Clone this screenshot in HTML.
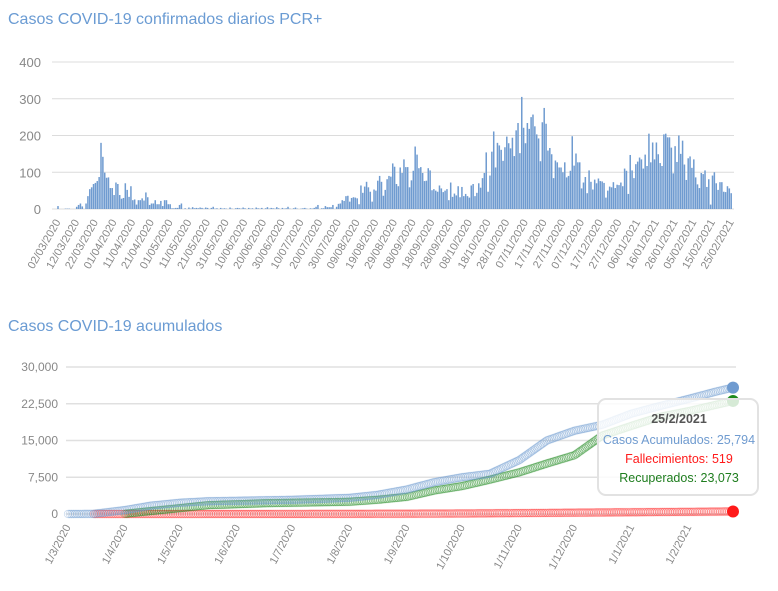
<!DOCTYPE html>
<html><head><meta charset="utf-8">
<style>
body{margin:0;background:#fff;font-family:"Liberation Sans",sans-serif;}
svg{display:block}
</style></head>
<body>
<svg id="root" width="778" height="591" xmlns="http://www.w3.org/2000/svg">
<text x="8" y="24" font-size="16" fill="#6a9bd3">Casos COVID-19 confirmados diarios PCR+</text>
<g id="topChart"></g>
<text x="8" y="331" font-size="16" fill="#6a9bd3">Casos COVID-19 acumulados</text>
<g id="botChart"></g>
</svg>
<script>
// ---- daily chart data ----
const dailyTicks = ["02/03/2020","12/03/2020","22/03/2020","01/04/2020","11/04/2020","21/04/2020","01/05/2020","11/05/2020","21/05/2020","31/05/2020","10/06/2020","20/06/2020","30/06/2020","10/07/2020","20/07/2020","30/07/2020","09/08/2020","19/08/2020","29/08/2020","08/09/2020","18/09/2020","28/09/2020","08/10/2020","18/10/2020","28/10/2020","07/11/2020","17/11/2020","27/11/2020","07/12/2020","17/12/2020","27/12/2020","06/01/2021","16/01/2021","26/01/2021","05/02/2021","15/02/2021","25/02/2021"];
const dailyYTicks = [0,100,200,300,400];
const dailyCases = [
8,0,0,0,1,1,1,0,0,0, 6,11,15,7,0,15,35,54,59,68,
71,76,87,180,142,99,85,86,57,57, 38,72,68,38,28,30,70,52,33,62,
24,26,12,24,24,29,23,45,32,11, 15,15,24,13,13,22,8,24,24,13,
13,2,2,3,3,11,15,0,2,0, 4,1,5,2,3,2,4,3,1,4,
3,0,3,6,1,2,0,3,1,2, 1,0,4,1,0,2,3,2,1,4,
2,0,3,1,2,0,4,2,1,3, 0,2,5,1,3,2,1,5,2,0,
3,1,2,6,1,0,2,4,1,0, 1,2,3,1,0,2,1,3,6,11,
0,2,2,8,5,5,5,11,0,6, 14,15,24,22,35,36,20,30,32,31,
29,13,64,44,61,74,59,47,20,53, 50,77,90,74,36,52,81,90,88,124,
115,68,62,113,98,135,114,114,59,78, 104,170,148,111,114,98,76,77,111,105,
51,54,50,47,64,56,46,50,54,24, 72,33,42,37,62,32,60,35,41,35,
31,64,68,35,44,70,58,84,98,154, 47,91,156,211,113,180,173,161,131,168,
197,179,165,194,144,214,234,152,305,221, 179,234,218,250,257,225,203,192,130,236,
275,232,159,166,149,84,132,127,113,113, 100,127,86,90,104,198,118,151,127,127,
56,72,87,43,105,74,53,80,70,83, 76,75,71,31,50,61,59,73,57,66,
65,72,62,110,104,41,147,105,84,122, 129,140,135,110,148,117,205,127,181,135,
181,149,125,117,203,205,195,195,167,97, 171,128,200,150,186,121,79,138,143,112,
135,86,67,57,98,95,105,60,81,12, 91,100,70,52,73,73,47,46,62,56, 43];

// ---- cumulative chart data ----
const cumDays = [0,14,31,45,61,76,92,107,122,138,153,168,184,199,214,229,245,260,275,290,306,321,337,352,361];
const cumLabels = ["1/3/2020","1/4/2020","1/5/2020","1/6/2020","1/7/2020","1/8/2020","1/9/2020","1/10/2020","1/11/2020","1/12/2020","1/1/2021","1/2/2021"];
const cumTickDays = [0,31,61,92,122,153,184,214,245,275,306,337];
const cumYTicks = [0,7500,15000,22500,30000];
const casosAcum = [0,30,800,1700,2300,2600,2700,2800,2900,3100,3300,3900,5000,6500,7500,8200,11000,15000,17000,18200,20500,22000,23500,25000,25794];
const recuperados = [0,0,50,600,1200,1800,2000,2200,2300,2400,2500,2900,3500,4800,5700,7000,8500,10300,12000,16000,18000,19800,21000,22300,23073];
const fallecidos = [0,0,2,4,6,8,10,12,15,20,30,45,60,80,100,140,180,220,270,310,350,400,440,490,519];

const NS="http://www.w3.org/2000/svg";
function mk(parent,tag,attrs){const e=document.createElementNS(NS,tag);for(const k in attrs)e.setAttribute(k,attrs[k]);parent.appendChild(e);return e;}

// ---- draw daily chart ----
const topG=document.getElementById('topChart');
const tx0=58, tdx=1.87, ty0=209, tyPer=147/400;
const txs=d=>tx0+d*tdx, tys=v=>ty0-v*tyPer;
dailyYTicks.forEach(v=>{
  const l=mk(topG,'line',{x1:52,x2:734,y1:tys(v),y2:tys(v),stroke:'#dcdcdc','stroke-width':1});
  
  
  const t=mk(topG,'text',{x:41,y:tys(v)+5,'text-anchor':'end','font-size':13,fill:'#888'});
  t.textContent=v;
  
  
});
dailyCases.forEach((v,i)=>{
  const r=mk(topG,'rect',{x:txs(i)-0.75,y:tys(v),width:1.5,height:v*tyPer,fill:'#6f9bd0'});
  
  
});
dailyTicks.forEach((s,i)=>{
  const x=txs(i*10)+3, y=222;
  const t=mk(topG,'text',{x:x,y:y,'text-anchor':'end','font-size':11,fill:'#888',transform:`rotate(-60 ${x} ${y})`});
  t.textContent=s;
  
  
});

// ---- draw cumulative chart ----
const botG=document.getElementById('botChart');
const bx0=68, bdx=(733-68)/361, by0=514, byPer=147/30000;
const bxs=d=>bx0+d*bdx, bys=v=>by0-v*byPer;
cumYTicks.forEach(v=>{
  const l=mk(botG,'line',{x1:66,x2:736,y1:bys(v),y2:bys(v),stroke:'#e0e0e0','stroke-width':1.5});
  
  
  const t=mk(botG,'text',{x:58,y:bys(v)+4,'text-anchor':'end','font-size':12,fill:'#888'});
  t.textContent=v.toLocaleString('en-US');
  
  
});
cumLabels.forEach((s,i)=>{
  const x=bxs(cumTickDays[i])+3, y=527;
  const t=mk(botG,'text',{x:x,y:y,'text-anchor':'end','font-size':11,fill:'#888',transform:`rotate(-62 ${x} ${y})`});
  t.textContent=s;
  
  
});
function series(vals,color,name,startIdx){
  const g=mk(botG,'g',{});
  
  
  let d='';
  for(let i=startIdx;i<vals.length;i++){d+=(i===startIdx?'M':'L')+bxs(cumDays[i])+','+bys(vals[i]);}
  const p=mk(g,'path',{d:d,fill:'none',stroke:color,'stroke-width':9,'stroke-opacity':0.12,'stroke-linejoin':'round'});
  
  
  const L=p.getTotalLength();
  for(let s=0;s<L;s+=1.8){
    const pt=p.getPointAtLength(s);
    mk(g,'circle',{cx:pt.x,cy:pt.y,r:3.8,fill:'none',stroke:color,'stroke-width':0.6,'stroke-opacity':0.45});
  }
  return g;
}
series(fallecidos,'#ff2a2a','fallecimientos',1);
series(recuperados,'#1e8a1e','recuperados',2);
series(casosAcum,'#6f9bd0','casos-acumulados',0);
const lastIdx=cumDays.length-1;
[[casosAcum,'#6f9bd0','casos-end-point'],[recuperados,'#1e8a1e','recuperados-end-point'],[fallecidos,'#ff1a1a','fallecimientos-end-point']].forEach(a=>{
  const c=mk(botG,'circle',{cx:bxs(cumDays[lastIdx]),cy:bys(a[0][lastIdx]),r:6,fill:a[1]});
  
  
});
// tooltip
const tip=mk(botG,'g',{});


const tr=mk(tip,'rect',{x:598,y:399,width:160,height:96,rx:8,fill:'#fff','fill-opacity':0.82,stroke:'#e2e2e2','stroke-width':2});


[['25/2/2021',423,'#555','bold','tooltip-date'],
 ['Casos Acumulados: '+casosAcum[lastIdx].toLocaleString('en-US'),444,'#6f9bd0','normal','tooltip-casos'],
 ['Fallecimientos: '+fallecidos[lastIdx],463,'#ff1a1a','normal','tooltip-fallecimientos'],
 ['Recuperados: '+recuperados[lastIdx].toLocaleString('en-US'),482,'#1e7d1e','normal','tooltip-recuperados']].forEach(a=>{
  const t=mk(tip,'text',{x:679,y:a[1],'text-anchor':'middle','font-size':12.5,fill:a[2],'font-weight':a[3]});
  t.textContent=a[0];
  
  
});
</script>
</body></html>
